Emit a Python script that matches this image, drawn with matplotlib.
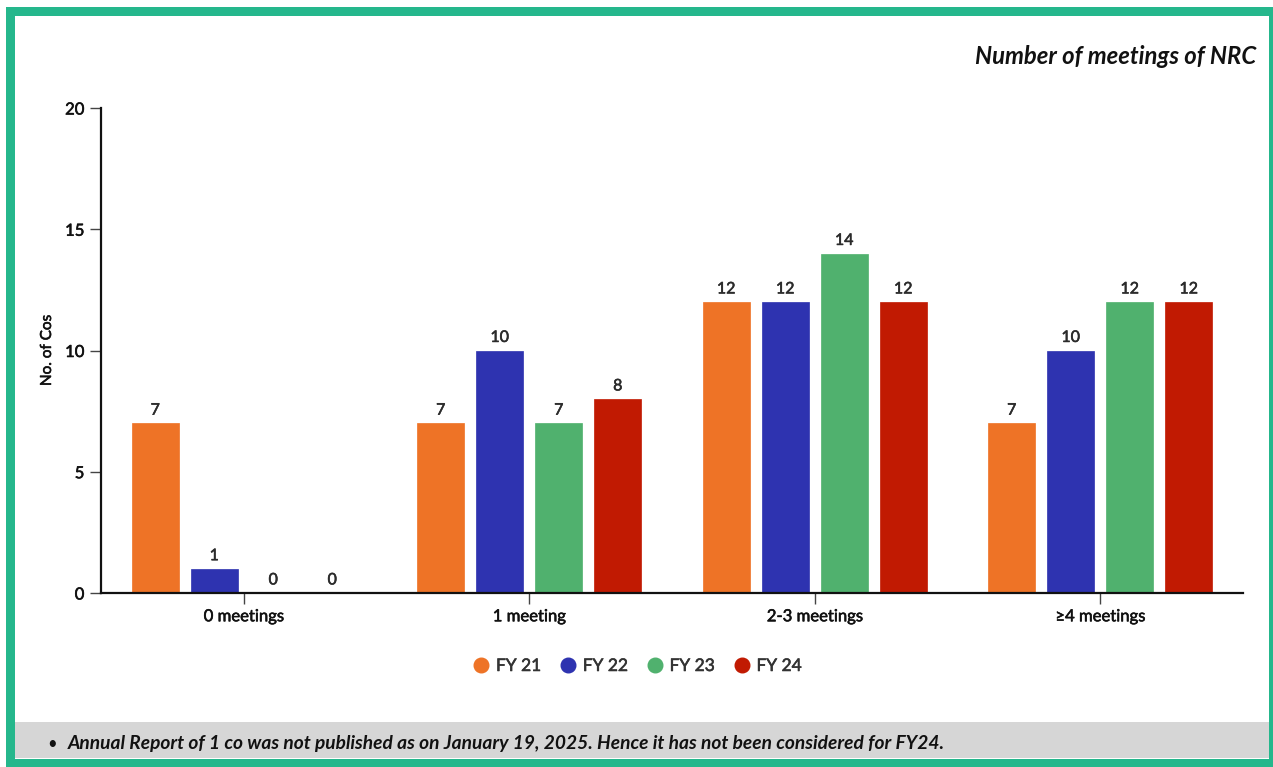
import matplotlib
matplotlib.use("Agg")
import matplotlib.pyplot as plt
import matplotlib.patheffects as pe
from matplotlib.patches import Rectangle
from matplotlib.lines import Line2D
import numpy as np

plt.rcParams['font.family'] = ['Lato', 'DejaVu Sans']

categories = ["0 meetings", "1 meeting", "2-3 meetings", "\u22654 meetings"]
series_names = ["FY 21", "FY 22", "FY 23", "FY 24"]
fy21 = [7, 7, 12, 7]
fy22 = [1, 10, 12, 10]
fy23 = [0, 7, 14, 12]
fy24 = [0, 8, 12, 12]
series_values = [fy21, fy22, fy23, fy24]
colors = ["#EE7326", "#2E33B0", "#50B16E", "#C11A02"]
y_ticks = [0, 5, 10, 15, 20]

W, H = 1273, 767
fig = plt.figure(figsize=(W / 100, H / 100), dpi=100)
fig.patch.set_facecolor("white")

def fx(px):
    return px / W

def fy(py):
    return 1 - py / H

def heavier(color):
    return [pe.withStroke(linewidth=0.4, foreground=color)]

# grey footnote band and green frame
fig.patches.append(Rectangle((fx(14), fy(758)), fx(1269) - fx(14), fy(722) - fy(758),
                             transform=fig.transFigure, facecolor="#D6D6D6",
                             edgecolor="none", zorder=0))
fig.patches.append(Rectangle((fx(9.5), fy(762.5)), fx(1273.5) - fx(9.5), fy(10.5) - fy(762.5),
                             transform=fig.transFigure, facecolor="none",
                             edgecolor="#25B78C", linewidth=9 * 0.72, zorder=5))

ax = fig.add_axes([fx(101), fy(593), fx(1243) - fx(101), fy(108) - fy(593)])
x = np.arange(len(categories))
step = 0.2067
width = 0.1646
for i, (vals, col) in enumerate(zip(series_values, colors)):
    pos = x + (i - 1.5) * step
    ax.bar(pos, vals, width=width, color=col, edgecolor=col, linewidth=0.5, zorder=2)
    for p, v in zip(pos, vals):
        ax.annotate(str(v), (p, v), xytext=(0, 4), textcoords="offset points",
                    ha="center", va="bottom", fontsize=11.5, color="#2b2b2b",
                    path_effects=heavier("#2b2b2b"))

ax.set_xlim(-0.5, len(categories) - 0.5)
ax.set_ylim(0, 20)
ax.set_yticks(y_ticks)
ax.set_xticks(x)
ax.set_xticklabels(categories)
for s in ["top", "right"]:
    ax.spines[s].set_visible(False)
for s in ["left", "bottom"]:
    ax.spines[s].set_linewidth(1.6)
    ax.spines[s].set_color("#111111")
ax.tick_params(axis="y", length=8, width=1, color="#444444", labelsize=12,
               labelcolor="#111111", pad=4)
ax.tick_params(axis="x", length=8, width=1, color="#444444", labelsize=12,
               labelcolor="#111111", pad=3)
for lab in ax.get_xticklabels() + ax.get_yticklabels():
    lab.set_path_effects(heavier("#111111"))
ax.set_ylabel("No. of Cos", fontsize=11, color="#111111",
              path_effects=heavier("#111111"))
ax.yaxis.set_label_coords((54 - 101) / (1243 - 101), 0.5)

handles = [Line2D([], [], marker="o", linestyle="none", markersize=10.5,
                  markerfacecolor=c, markeredgecolor=c) for c in colors]
leg = fig.legend(handles, series_names, loc="center", bbox_to_anchor=(fx(638), fy(666)),
                 ncol=4, frameon=False, handlelength=0.8, handletextpad=0.45,
                 columnspacing=1.15, labelcolor="#333333", prop={"size": 12.5})
for t in leg.get_texts():
    t.set_path_effects(heavier("#333333"))

fig.text(fx(1256), fy(57), "Number of meetings of NRC", ha="right", va="center",
         fontsize=17.2, fontweight="bold", fontstyle="italic", color="#111111")

fig.text(fx(47), fy(744), "\u2022", ha="left", va="center", fontsize=12,
         color="#111111")
fig.text(fx(68), fy(744),
         "Annual Report of 1 co was not published as on January 19, 2025. "
         "Hence it has not been considered for FY24.",
         ha="left", va="center", fontsize=13.8, fontweight="bold",
         fontstyle="italic", color="#111111")

fig.savefig("out.png", dpi=100)
